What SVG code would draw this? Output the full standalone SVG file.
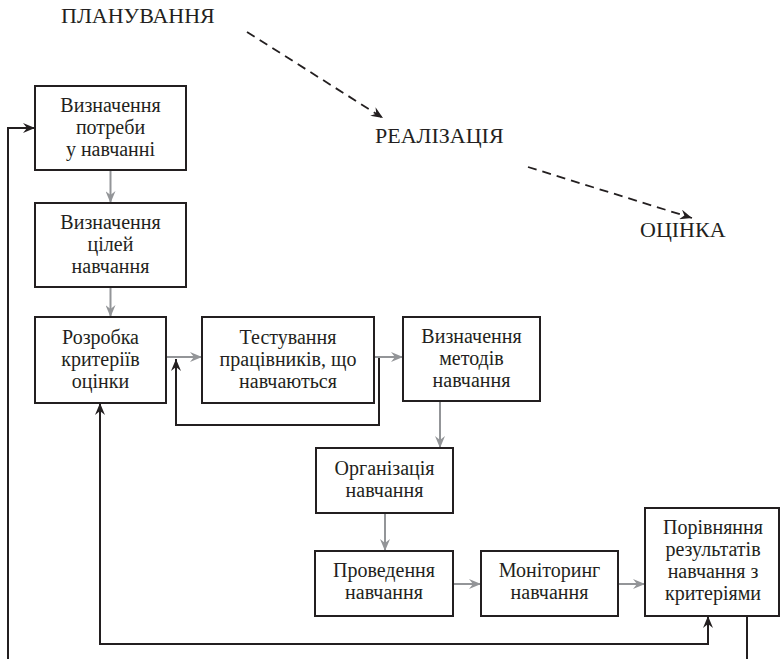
<svg xmlns="http://www.w3.org/2000/svg" width="780" height="659" viewBox="0 0 780 659" font-family="Liberation Serif, Times New Roman, serif">
<style>
.box{fill:#fff;stroke:#231f20;stroke-width:2}
text{font-size:20px;fill:#231f20;text-anchor:middle}
.lbl{text-anchor:start;font-size:22px}
.g{fill:none;stroke:#939598;stroke-width:2}
.k{fill:none;stroke:#231f20;stroke-width:2}
.d{fill:none;stroke:#231f20;stroke-width:1.8;stroke-dasharray:9,6}
</style>
<defs>
<marker id="ag" viewBox="0 0 12 10" refX="12" refY="5" markerWidth="12" markerHeight="10" markerUnits="userSpaceOnUse" orient="auto">
<path d="M0,0 L12,5 L0,10 L4,5 z" fill="#939598"/>
</marker>
<marker id="ak" viewBox="0 0 12 10" refX="12" refY="5" markerWidth="13" markerHeight="10" markerUnits="userSpaceOnUse" orient="auto">
<path d="M0,0 L12,5 L0,10 L4,5 z" fill="#231f20"/>
</marker>
<marker id="aks" viewBox="0 0 12 10" refX="12" refY="5" markerWidth="13" markerHeight="10" markerUnits="userSpaceOnUse" orient="auto-start-reverse">
<path d="M0,0 L12,5 L0,10 L4,5 z" fill="#231f20"/>
</marker>
</defs>

<g id="stages">
<text class="lbl" x="61" y="23">ПЛАНУВАННЯ</text>
<text class="lbl" x="375" y="143">РЕАЛІЗАЦІЯ</text>
<text class="lbl" x="640" y="237">ОЦІНКА</text>
</g>

<g id="connectors">
<path class="d" d="M247,32 L383,118" marker-end="url(#ak)"/>
<path class="d" d="M528,167 L692,218" marker-end="url(#ak)"/>
<path class="g" d="M110.5,170 L110.5,203" marker-end="url(#ag)"/>
<path class="g" d="M110.5,287 L110.5,317" marker-end="url(#ag)"/>
<path class="g" d="M166,357 L202,357" marker-end="url(#ag)"/>
<path class="g" d="M374,357 L403,357" marker-end="url(#ag)"/>
<path class="g" d="M440,401 L440,448" marker-end="url(#ag)"/>
<path class="g" d="M385,513 L385,551" marker-end="url(#ag)"/>
<path class="g" d="M453,584 L481,584" marker-end="url(#ag)"/>
<path class="g" d="M618,584 L645,584" marker-end="url(#ag)"/>
<path class="k" d="M8,659 L8,128 L35,128" marker-end="url(#ak)"/>
<path class="k" d="M379,358 L379,425 L176,425 L176,359" marker-end="url(#ak)"/>
<path class="k" d="M100,403 L100,644 L708,644 L708,616" marker-start="url(#aks)" marker-end="url(#ak)"/>
<path class="k" d="M747,615 L747,659"/>
</g>

<g id="n1">
<rect class="box" x="35" y="86" width="151" height="84"/>
<text x="110.5" y="112">Визначення</text>
<text x="110.5" y="134">потреби</text>
<text x="110.5" y="156">у навчанні</text>
</g>
<g id="n2">
<rect class="box" x="35" y="203" width="151" height="84"/>
<text x="110.5" y="229">Визначення</text>
<text x="110.5" y="251">цілей</text>
<text x="110.5" y="273">навчання</text>
</g>
<g id="n3">
<rect class="box" x="35" y="317" width="131" height="86"/>
<text x="100.5" y="344">Розробка</text>
<text x="100.5" y="366">критеріїв</text>
<text x="100.5" y="388">оцінки</text>
</g>
<g id="n4">
<rect class="box" x="202" y="317" width="172" height="86"/>
<text x="288" y="344">Тестування</text>
<text x="288" y="366">працівників, що</text>
<text x="288" y="388">навчаються</text>
</g>
<g id="n5">
<rect class="box" x="403" y="317" width="137" height="84"/>
<text x="471.5" y="343">Визначення</text>
<text x="471.5" y="365">методів</text>
<text x="471.5" y="387">навчання</text>
</g>
<g id="n6">
<rect class="box" x="316" y="448" width="137" height="65"/>
<text x="384.5" y="475">Організація</text>
<text x="384.5" y="497">навчання</text>
</g>
<g id="n7">
<rect class="box" x="315" y="551" width="138" height="65"/>
<text x="384" y="577">Проведення</text>
<text x="384" y="599">навчання</text>
</g>
<g id="n8">
<rect class="box" x="481" y="551" width="137" height="65"/>
<text x="549.5" y="577">Моніторинг</text>
<text x="549.5" y="599">навчання</text>
</g>
<g id="n9">
<rect class="box" x="645" y="508" width="134" height="108"/>
<text x="713" y="534">Порівняння</text>
<text x="713" y="556">результатів</text>
<text x="713" y="578">навчання з</text>
<text x="713" y="600">критеріями</text>
</g>
</svg>
